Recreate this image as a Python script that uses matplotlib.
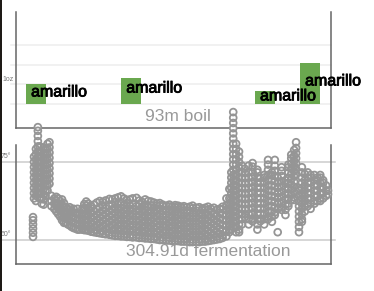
import matplotlib
matplotlib.use("Agg")
import matplotlib.pyplot as plt
import matplotlib.patheffects as pe
from matplotlib.patches import Rectangle
from matplotlib.transforms import blended_transform_factory

plt.rcParams['font.family'] = ['Liberation Sans', 'DejaVu Sans']

# Hop additions during the boil (minutes, ounces)
hop_names = ['amarillo', 'amarillo', 'amarillo', 'amarillo']
hop_minute = [5.9, 34.0, 73.5, 86.8]
hop_oz = [1.0, 1.3, 0.65, 2.1]
boil_minutes = 93
boil_label = '93m boil'

# Fermentation temperature readings, grouped by day
ferm_day = [0, 1, 3, 5, 7, 9, 11, 13, 15, 17, 19, 22, 24, 26, 28, 30, 32, 34, 36, 38,
            40, 42, 44, 46, 48, 51, 53, 55, 57, 60, 63, 66, 69, 72, 75, 79, 82, 85,
            88, 91, 94, 97, 100, 103, 107, 110, 113, 116, 119, 122, 125, 128, 131,
            134, 138, 141, 144, 147, 150, 153, 156, 159, 162, 165, 169, 172, 175,
            178, 181, 184, 187, 190, 193, 196, 200, 203, 205, 207, 210, 213, 216,
            219, 223, 227, 232, 235, 239, 243, 247, 250, 253, 257, 261, 264, 267,
            270, 272, 275, 278, 281, 284, 287, 291, 294, 297, 300, 303, 305]
ferm_temp = [
    [60.6, 61.4, 62.2, 63.0, 63.8, 64.4],
    [68.0, 69.0, 70.0, 71.0, 72.0, 73.0, 74.0, 75.0, 76.0],
    [67.5, 68.5, 69.5, 70.5, 71.5, 72.5, 73.5, 74.5, 75.5, 76.5, 77.5],
    [69.0, 70.0, 71.0, 72.0, 73.0, 74.0, 75.0, 76.0, 77.0, 78.0, 79.0, 80.0, 81.0, 81.7],
    [68.0, 69.0, 70.0, 71.0, 72.0, 73.0, 74.0, 75.0, 76.0, 77.0, 78.0],
    [67.0, 68.0, 69.0, 70.0, 71.0, 72.0, 73.0, 74.0, 75.0, 76.0],
    [66.8, 67.8, 68.8, 69.8, 70.8, 71.8, 72.8, 73.8, 74.8, 75.8, 76.8, 77.8],
    [68.5, 69.5, 70.5, 71.5, 72.5, 73.5, 74.5, 75.5, 76.5, 77.5],
    [69.5, 70.5, 71.5, 72.5, 73.5, 74.5, 75.5, 76.5, 77.5, 78.5],
    [70.8, 71.8, 72.8, 73.8, 74.8, 75.8, 76.8, 77.8, 78.8],
    [66.5, 67.5, 68.5],
    [66.0, 67.0, 68.0],
    [65.5, 66.5, 67.5, 68.3],
    [65.0, 66.0, 67.0, 68.0],
    [64.5, 65.5, 66.5, 67.5],
    [63.8, 64.8, 65.8, 66.8, 67.8],
    [63.3, 64.3, 65.3, 66.3, 67.1],
    [63.3, 64.3, 65.3, 66.3],
    [63.0, 64.0, 65.0, 66.0],
    [62.8, 63.8, 64.8, 65.8, 66.3],
    [62.5, 63.5, 64.5, 65.5],
    [62.3, 63.3, 64.3, 65.3, 66.0],
    [62.2, 63.2, 64.2, 65.2],
    [62.0, 63.0, 64.0, 65.0, 66.0],
    [62.0, 63.0, 64.0, 65.0],
    [62.0, 63.0, 64.0, 65.0, 66.0],
    [61.9, 62.9, 63.9, 64.9, 65.9, 66.9],
    [61.9, 62.6, 63.4, 64.2, 65.0, 65.8, 66.6, 67.4],
    [61.8, 62.8, 63.8, 64.8, 65.8, 67.0],
    [61.6, 62.1, 63.1, 64.1, 65.1, 66.1, 66.5],
    [61.5, 62.5, 63.5, 64.5, 65.5, 66.8],
    [61.4, 61.9, 62.9, 63.9, 64.9, 65.9, 67.2],
    [61.3, 62.3, 63.3, 64.3, 65.3, 66.3, 67.5],
    [61.2, 61.7, 62.7, 63.7, 64.7, 65.7, 66.7, 67.3],
    [61.1, 62.1, 63.1, 64.1, 65.1, 66.1, 67.6],
    [61.0, 61.5, 62.5, 63.5, 64.5, 65.5, 66.5, 67.9],
    [60.9, 61.9, 62.9, 63.9, 64.9, 65.9, 66.9, 67.8],
    [60.8, 61.3, 62.3, 63.3, 64.3, 65.3, 66.3, 67.3, 68.0],
    [60.8, 61.8, 62.8, 63.8, 64.8, 65.8, 66.8, 68.2],
    [60.7, 61.2, 62.2, 63.2, 64.2, 65.2, 66.2, 67.2, 68.4],
    [60.7, 61.7, 62.7, 63.7, 64.7, 65.7, 66.7, 68.0],
    [60.6, 61.1, 62.1, 63.1, 64.1, 65.1, 66.1, 67.1, 67.7],
    [60.6, 61.6, 62.6, 63.6, 64.6, 65.6, 66.6, 67.8],
    [60.5, 61.0, 62.0, 63.0, 64.0, 65.0, 66.0, 67.0, 68.0],
    [60.5, 61.5, 62.5, 63.5, 64.5, 65.5, 66.5, 68.1],
    [60.4, 60.9, 61.9, 62.9, 63.9, 64.9, 65.9, 66.9, 67.6],
    [60.4, 61.4, 62.4, 63.4, 64.4, 65.4, 66.4, 67.3],
    [60.3, 60.8, 61.8, 62.8, 63.8, 64.8, 65.8, 66.8, 67.8],
    [60.3, 61.3, 62.3, 63.3, 64.3, 65.3, 66.3, 67.5],
    [60.2, 60.7, 61.7, 62.7, 63.7, 64.7, 65.7, 66.7, 67.4],
    [60.2, 61.2, 62.2, 63.2, 64.2, 65.2, 66.2, 67.2],
    [60.1, 60.6, 61.6, 62.6, 63.6, 64.6, 65.6, 66.6, 67.0],
    [60.0, 61.0, 62.0, 63.0, 64.0, 65.0, 66.0, 67.1],
    [60.0, 60.5, 61.5, 62.5, 63.5, 64.5, 65.5, 66.5, 66.8],
    [59.9, 60.9, 61.9, 62.9, 63.9, 64.9, 65.9, 66.6],
    [59.9, 60.4, 61.4, 62.4, 63.4, 64.4, 65.4, 66.4, 66.8],
    [59.8, 60.8, 61.8, 62.8, 63.8, 64.8, 65.8, 66.5],
    [59.8, 60.3, 61.3, 62.3, 63.3, 64.3, 65.3, 66.3, 66.7],
    [59.8, 60.8, 61.8, 62.8, 63.8, 64.8, 65.8, 66.6],
    [59.7, 60.2, 61.2, 62.2, 63.2, 64.2, 65.2, 66.2, 66.4],
    [59.7, 60.7, 61.7, 62.7, 63.7, 64.7, 65.7, 66.5],
    [59.7, 60.2, 61.2, 62.2, 63.2, 64.2, 65.2, 66.3],
    [59.6, 60.6, 61.6, 62.6, 63.6, 64.6, 65.6, 66.4],
    [59.6, 60.1, 61.1, 62.1, 63.1, 64.1, 65.1, 66.1, 66.6],
    [59.6, 60.6, 61.6, 62.6, 63.6, 64.6, 65.6, 66.2],
    [59.6, 60.1, 61.1, 62.1, 63.1, 64.1, 65.1, 66.3],
    [59.7, 60.7, 61.7, 62.7, 63.7, 64.7, 65.7, 66.0],
    [59.7, 60.2, 61.2, 62.2, 63.2, 64.2, 65.2, 66.2],
    [59.8, 60.8, 61.8, 62.8, 63.8, 64.8, 65.8, 66.4],
    [59.9, 60.4, 61.4, 62.4, 63.4, 64.4, 65.4, 66.0],
    [60.0, 61.0, 62.0, 63.0, 64.0, 65.0, 66.2],
    [60.1, 60.6, 61.6, 62.6, 63.6, 64.6, 65.8],
    [60.2, 61.2, 62.2, 63.2, 64.2, 65.2, 66.0],
    [60.4, 60.9, 61.9, 62.9, 63.9, 64.9, 65.9, 66.4],
    [60.7, 61.7, 62.7, 63.7, 64.7, 65.7, 66.7, 68.0],
    [61.5, 62.0, 63.0, 64.0, 65.0, 66.0, 67.0, 68.0, 69.8],
    [62.0, 63.0, 64.0, 65.0, 66.0, 67.0, 68.0, 69.0, 70.0, 71.0, 72.0, 73.0],
    [62.5, 63.5, 64.5, 65.5, 66.5, 67.5, 68.5, 69.5, 70.5, 71.5, 72.5, 73.5, 74.5,
     75.5, 76.5, 77.5, 78.5, 79.5, 80.5, 81.5, 82.5, 83.5, 84.6],
    [61.5, 62.5, 63.5, 64.5, 65.5, 66.5, 67.5, 68.5, 69.5, 70.5, 71.5, 72.5, 73.5,
     74.5, 75.5, 76.5, 77.5, 78.5],
    [61.5, 62.0, 63.0, 64.0, 65.0, 66.0, 67.0, 68.0, 69.0, 70.0, 71.0, 72.0, 73.0,
     74.0, 75.0, 76.0, 77.0],
    [63.0, 64.0, 65.0, 66.0, 67.0, 68.0, 69.0, 70.0, 71.0, 72.0, 73.0, 74.3],
    [64.4, 64.9, 65.9, 66.9, 67.9, 68.9, 69.9, 70.9, 71.9, 72.9, 73.7],
    [63.0, 64.0, 65.0, 66.0, 67.0, 68.0, 69.0, 70.0, 71.0, 72.0, 73.0, 74.3],
    [63.6, 64.1, 65.1, 66.1, 67.1, 68.1, 69.1, 70.1, 71.1, 72.1, 73.1, 74.1, 74.8],
    [62.0, 63.0, 64.0, 65.0, 66.0, 67.0, 68.0, 69.0, 70.0, 71.0, 72.0, 73.0, 73.5],
    [63.6, 64.1, 65.1, 66.1, 67.1, 68.1, 69.1, 70.1, 71.1, 71.9],
    [63.0, 64.0, 65.0, 66.0, 67.0, 68.0, 69.0, 70.0, 71.0, 72.0, 72.5],
    [64.0, 64.5, 65.5, 66.5, 67.5, 68.5, 69.5, 70.5, 71.5, 72.5, 73.5, 74.5, 75.4],
    [63.5, 64.5, 65.5, 66.5, 67.5, 68.5, 69.5, 70.5, 71.5, 72.5, 73.0],
    [64.8, 65.3, 66.3, 67.3, 68.3, 69.3, 70.3, 71.3, 72.3, 73.3, 74.3, 75.4],
    [61.5, 66.0, 67.0, 68.0, 69.0, 70.0, 71.0, 72.0],
    [65.8, 66.3, 67.3, 68.3, 69.3, 70.3, 71.3, 72.3, 73.3, 74.0],
    [64.8, 65.8, 66.8, 67.8, 68.8, 69.8, 70.8, 71.5],
    [66.5, 67.0, 68.0, 69.0, 70.0, 71.0, 72.0, 73.0, 74.0, 74.5],
    [67.7, 68.7, 69.7, 70.7, 71.7, 72.7, 73.7, 74.7, 75.7, 76.4],
    [67.7, 68.2, 69.2, 70.2, 71.2, 72.2, 73.2, 74.2, 75.2, 76.2, 77.3],
    [72.7, 73.7, 74.7, 75.7, 76.7, 77.7, 78.8],
    [61.5, 62.5, 63.5, 64.5, 65.5, 66.5, 67.5, 68.5, 69.5, 70.0],
    [63.5, 64.0, 65.0, 66.0, 67.0, 68.0, 69.0, 70.0, 71.0, 72.0, 73.0, 74.0],
    [65.5, 66.5, 67.5, 68.5, 69.5, 70.5, 71.5, 72.7],
    [66.5, 67.0, 68.0, 69.0, 70.0, 71.0, 72.0, 73.0],
    [66.0, 67.0, 68.0, 69.0, 70.0, 71.0, 72.0, 72.5],
    [67.0, 67.5, 68.5, 69.5, 70.5, 71.5, 72.5],
    [67.5, 68.5, 69.5, 70.5, 71.5, 72.0],
    [67.5, 68.0, 69.0, 70.0, 71.0, 72.0, 72.5],
    [68.0, 69.0, 70.0, 71.0, 71.5],
    [68.5, 69.5, 70.5],
    [68.8, 69.5],
]
ferm_label = '304.91d fermentation'

# Axis labels and gridline values
boil_grid = [0, 1, 2, 3]
boil_tick = {1: '1oz'}
ferm_grid = [60, 75]
ferm_tick = {75: '75°', 60: '60°'}

# label placement (oz) for each hop name
label_y = [0.61, 0.81, 0.41, 1.17]

W, H = 374, 291
fig = plt.figure(figsize=(W / 100, H / 100), dpi=100)

spine_color = '#666666'
gray = '#959595'

# Boil panel
ax1 = fig.add_axes([16 / W, (H - 128) / H, 315 / W, 116 / H])
ax1.set_xlim(0, boil_minutes)
ax1.set_ylim(-24 / 19.67, 92 / 19.67)
for y in boil_grid:
    ax1.axhline(y, xmin=-5 / 315, xmax=1, color='#eeeeee', lw=1.1, clip_on=False, zorder=0)
bar_w = 5.9
ax1.bar(hop_minute, hop_oz, width=bar_w, color='#6aa84f', zorder=2)
for m, ly, name in zip(hop_minute, label_y, hop_names):
    ax1.text(m - bar_w / 2 + 1.5, ly, name, fontsize=11.5, color='black',
             va='center', ha='left', zorder=5, clip_on=False,
             path_effects=[pe.withStroke(linewidth=0.6, foreground='black')])
tr1 = blended_transform_factory(ax1.transAxes, ax1.transData)
for y, t in boil_tick.items():
    ax1.text(-14 / 315, y + 0.05, t, transform=tr1, fontsize=5, color='#777777',
             va='bottom', ha='left')
ax1.text(0.514, 0.095, boil_label, transform=ax1.transAxes, fontsize=12.5,
         color='#999999', ha='center', va='center')

# Fermentation panel
ax2 = fig.add_axes([16 / W, (H - 264) / H, 315 / W, 119 / H])
ax2.set_xlim(-17.6, 308.1)
ax2.set_ylim(60 - 24 / 5.2, 75 + 17 / 5.2)
for y in ferm_grid:
    ax2.axhline(y, xmin=-16 / 315, xmax=1 + 4 / 315, color='#cccccc', lw=1.1,
                clip_on=False, zorder=0)
xs, ys = [], []
for d, temps in zip(ferm_day, ferm_temp):
    xs += [d] * len(temps)
    ys += temps
# white discs underneath, then the rings on top
ax2.scatter(xs, ys, s=24, facecolor='white', edgecolor='none',
            clip_on=False, zorder=3)
ax2.scatter(xs, ys, s=24, facecolor='none', edgecolor=gray, linewidths=1.3,
            clip_on=False, zorder=3.5)
tr2 = blended_transform_factory(ax2.transAxes, ax2.transData)
for y, t in ferm_tick.items():
    ax2.text(-15 / 315, y + 0.3, t, transform=tr2, fontsize=5, color='#777777',
             va='bottom', ha='left')
ax2.text(0.61, 0.109, ferm_label, transform=ax2.transAxes, fontsize=12.5,
         color='#999999', ha='center', va='center', zorder=4)

for ax in (ax1, ax2):
    ax.set_xticks([])
    ax.set_yticks([])
    ax.spines['top'].set_visible(False)
    for s in ('left', 'right', 'bottom'):
        ax.spines[s].set_color(spine_color)
        ax.spines[s].set_linewidth(1.1)
    ax.patch.set_alpha(0)

# dark strip on the left edge
fig.add_artist(Rectangle((0, 0), 1.5 / W, 1, transform=fig.transFigure,
                         color='#1e1a16', lw=0))

fig.savefig('out.png', dpi=100)
